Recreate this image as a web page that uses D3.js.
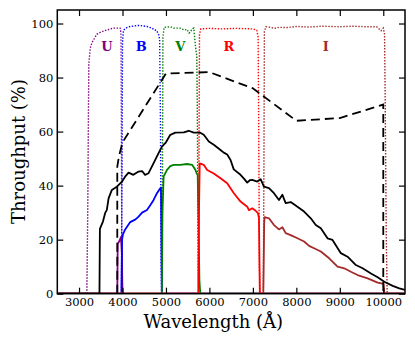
<!DOCTYPE html>
<html>
<head>
<meta charset="utf-8">
<script src="https://cdn.jsdelivr.net/npm/d3@7"></script>
<style>
  html, body { margin: 0; padding: 0; background: #fff; }
  svg { display: block; }
  text { font-family: "DejaVu Serif", serif; }
</style>
</head>
<body>
<svg id="chart" width="415" height="346"></svg>
<script>
// ---------- data (wavelength in Å, throughput in %) ----------
const xTicks = [3000, 4000, 5000, 6000, 7000, 8000, 9000, 10000];
const yTicks = [0, 20, 40, 60, 80, 100];

const totalSolid = [[2500,0],[3470,0],[3480,24],[3550,26.7],[3600,29.8],[3640,31],[3680,35.3],[3755,38.4],[3870,39.6],[3990,41.5],[4060,43.3],[4140,44.8],[4250,44],[4370,45.2],[4450,45.4],[4520,44],[4600,44.6],[4716,48.3],[4830,52],[4910,54.5],[4990,55.8],[5100,58.8],[5216,59.6],[5410,59.7],[5524,60.3],[5640,59.6],[5790,59.6],[5870,58.8],[5986,56.3],[6100,55.1],[6255,53.2],[6330,52.2],[6409,51.5],[6486,49.5],[6560,46],[6716,44],[6800,42.5],[6870,41.1],[6930,42],[6986,42.1],[7101,41.5],[7178,42.4],[7255,39.6],[7370,39.1],[7485,37.2],[7600,34.7],[7679,36.6],[7755,33.5],[7870,33.9],[8025,32.2],[8178,30.4],[8332,27.9],[8447,25.4],[8563,24.2],[8717,20.5],[8832,19.9],[9024,15],[9178,13.7],[9370,10.6],[9525,9.4],[9717,7.5],[9871,6.1],[10024,4.4],[10217,2.9],[10370,2],[10500,1.4]];

const ccdDashed = [[3880,0],[3880,47],[3920,51],[4000,56],[5000,81.5],[6000,82],[7000,76],[8000,64],[9000,65],[10000,70],[10000,0]];

const filterU = [[3180,0],[3200,30],[3225,85],[3260,91],[3300,93],[3409,96],[3500,96.8],[3640,97.6],[3792,98.3],[3947,98.3],[3965,96.5],[3975,60],[3985,10],[3995,0]];
const filterB = [[3975,0],[3990,50],[4000,93],[4024,97.6],[4100,98.5],[4178,98.9],[4370,99.3],[4563,98.9],[4680,98.3],[4732,97.6],[4780,97.5],[4830,96],[4855,94],[4875,60],[4890,10],[4900,0]];
const filterV = [[4905,0],[4920,45],[4930,95],[4960,98.6],[5100,98.8],[5177,98.3],[5332,98.3],[5420,97.6],[5486,97.8],[5530,96.5],[5563,96.8],[5600,98],[5640,98.3],[5665,94],[5690,90],[5710,88],[5725,60],[5740,10],[5755,0]];
const filterR = [[5745,0],[5760,50],[5772,96],[5800,98],[6000,98.2],[6300,98],[6600,98.2],[7000,98],[7090,97.5],[7120,95],[7135,60],[7150,10],[7165,0]];
const filterI = [[7240,0],[7255,50],[7265,97],[7300,98.8],[7400,98.6],[7500,98.2],[7600,98.6],[7800,98.5],[8000,98.9],[8300,98.7],[8600,99],[9000,98.8],[9300,99],[9600,98.8],[9850,98.8],[9950,97.3],[10000,98.3],[10030,96],[10045,70],[10070,20],[10090,0]];

const bandU = [[2500,0],[3880,0],[3890,18.5],[3930,19.5],[3965,21],[3985,15],[4000,0],[10500,0]];
const bandB = [[2500,0],[3975,0],[3990,20],[4010,22],[4062,23.8],[4178,26.5],[4300,27.5],[4370,28.5],[4450,30],[4563,31],[4650,33],[4716,34.7],[4793,37.2],[4854,38.7],[4885,39.3],[4895,20],[4905,0],[10500,0]];
const bandV = [[2500,0],[4905,0],[4920,30],[4946,43.3],[5025,45.8],[5100,47.2],[5177,47.7],[5332,47.7],[5486,48],[5602,47.7],[5679,45.8],[5710,44.4],[5730,44],[5745,30],[5770,5],[5790,0],[10500,0]];
const bandR = [[2500,0],[5745,0],[5760,30],[5777,48.2],[5870,47.7],[5948,45.8],[6100,44.5],[6255,42.7],[6409,40.9],[6562,37.2],[6716,34.1],[6870,32.2],[6909,30.9],[6986,31.6],[7063,30.7],[7116,29.8],[7140,28],[7160,0],[10500,0]];
const bandI = [[2500,0],[7240,0],[7260,26],[7270,28.3],[7370,27.9],[7485,25.4],[7600,23.8],[7679,24.6],[7755,22.4],[7870,21.7],[8025,20.5],[8178,19.3],[8293,17.7],[8408,16.8],[8563,15.6],[8755,13.1],[8948,10],[9101,9.4],[9255,8.1],[9409,6.9],[9640,5.7],[9871,4.1],[10008,3.6],[10025,0],[10500,0]];

const bandNames = ["U", "B", "V", "R", "I"];
const bandColors = ["#800080", "#0000ff", "#008000", "#ff0000", "#a52a2a"];
const bandLabelX = [3640, 4430, 5330, 6450, 8680];
const bandLabelY = [90, 90, 90, 90, 90];

// ---------- layout ----------
const W = 415, H = 346;
const m = { left: 57.3, right: 10, top: 10, bottom: 52.3 };
const iw = W - m.left - m.right, ih = H - m.top - m.bottom;

const svg = d3.select("#chart");
const g = svg.append("g").attr("transform", `translate(${m.left},${m.top})`);

const x = d3.scaleLinear().domain([2500, 10500]).range([0, iw]);
const y = d3.scaleLinear().domain([0, 105]).range([ih, 0]);

g.append("defs").append("clipPath").attr("id", "clip")
  .append("rect").attr("width", iw).attr("height", ih);

const line = d3.line().x(d => x(d[0])).y(d => y(d[1]));
const plot = g.append("g").attr("clip-path", "url(#clip)");

const filters = [filterU, filterB, filterV, filterR, filterI];
const bands = [bandU, bandB, bandV, bandR, bandI];

// filter curves (dotted)
filters.forEach((f, i) => {
  plot.append("path").datum(f).attr("d", line)
    .attr("fill", "none").attr("stroke", bandColors[i])
    .attr("stroke-width", 1.4).attr("stroke-dasharray", "1.4,1.6");
});

// band throughput (solid colored)
bands.forEach((b, i) => {
  plot.append("path").datum(b).attr("d", line)
    .attr("fill", "none").attr("stroke", bandColors[i])
    .attr("stroke-width", 1.8).attr("stroke-linejoin", "round");
});

// total (solid black)
plot.append("path").datum(totalSolid).attr("d", line)
  .attr("fill", "none").attr("stroke", "#000")
  .attr("stroke-width", 1.8).attr("stroke-linejoin", "round");

// dashed
plot.append("path").datum(ccdDashed).attr("d", line)
  .attr("fill", "none").attr("stroke", "#000")
  .attr("stroke-width", 1.8).attr("stroke-dasharray", "9,5");

// band labels
bandNames.forEach((n, i) => {
  g.append("text").attr("x", x(bandLabelX[i])).attr("y", y(bandLabelY[i]))
    .attr("text-anchor", "middle").attr("font-weight", "bold")
    .attr("font-size", 13).attr("fill", bandColors[i]).text(n);
});

// axes (inward ticks on all sides)
const fs = 11.5;
const ax = g.append("g").attr("transform", `translate(0,${ih})`)
  .call(d3.axisBottom(x).tickValues(xTicks).tickSize(-6).tickPadding(4.6).tickFormat(d3.format("d")));
const ay = g.append("g")
  .call(d3.axisLeft(y).tickValues(yTicks).tickSize(-6).tickPadding(4));
const at = g.append("g")
  .call(d3.axisTop(x).tickValues(xTicks).tickSize(-6).tickFormat(""));
const ar = g.append("g").attr("transform", `translate(${iw},0)`)
  .call(d3.axisRight(y).tickValues(yTicks).tickSize(-6).tickFormat(""));

[ax, ay, at, ar].forEach(a => {
  a.select(".domain").remove();
  a.selectAll(".tick line").attr("stroke", "#000").attr("stroke-width", 1.2);
  a.selectAll("text").attr("font-family", "DejaVu Serif").attr("font-size", fs).attr("fill", "#000");
});

// frame
g.append("rect").attr("width", iw).attr("height", ih)
  .attr("fill", "none").attr("stroke", "#000").attr("stroke-width", 1.5);

// axis titles
svg.append("text").attr("x", m.left + x(6090)).attr("y", 328)
  .attr("text-anchor", "middle").attr("font-size", 18).attr("fill", "#000")
  .text("Wavelength (Å)");
svg.append("text").attr("transform", `translate(25,151.5) rotate(-90)`)
  .attr("text-anchor", "middle").attr("font-size", 18).attr("fill", "#000")
  .text("Throughput (%)");
</script>
</body>
</html>
